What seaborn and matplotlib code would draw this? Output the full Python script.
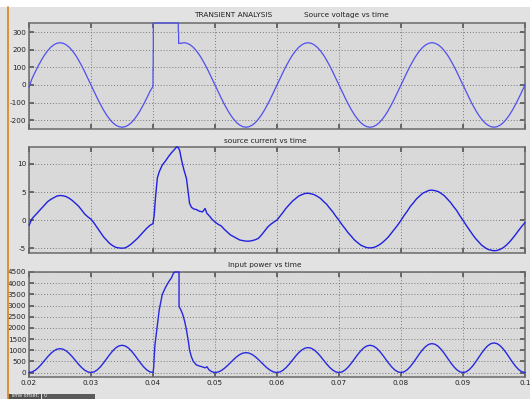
import numpy as np
import pandas as pd
import matplotlib
matplotlib.use('Agg')
import matplotlib.pyplot as plt
import seaborn as sns
from matplotlib.lines import Line2D
from matplotlib.patches import Rectangle

sns.set_theme(style='ticks')
plt.rcParams['font.family'] = ['DejaVu Sans']

# ---- data (time in ms) ----
# source voltage (trace saturates at the top of the scope window, 352)
volt_a = [-12, 37, 74, 109, 141, 170, 194, 214, 228, 237,
          240, 237, 228, 214, 194, 170, 141, 109, 74, 37,
          0, -37, -74, -109, -141, -170, -194, -214, -228, -237,
          -240, -237, -228, -214, -194, -170, -141, -109, -74, -37,
          -8]
volt_tr_ms = [40.0, 40.03, 40.03, 40.05, 40.05, 44.08, 44.08, 44.13, 44.13]
volt_tr = [85, 85, 186, 186, 352, 352, 302, 302, 236]
volt_b = [237,
          240, 237, 228, 214, 194, 170, 141, 109, 74, 37,
          0, -37, -74, -109, -141, -170, -194, -214, -228, -237,
          -240, -237, -228, -214, -194, -170, -141, -109, -74, -37,
          0, 37, 74, 109, 141, 170, 194, 214, 228, 237,
          240, 237, 228, 214, 194, 170, 141, 109, 74, 37,
          0, -37, -74, -109, -141, -170, -194, -214, -228, -237,
          -240, -237, -228, -214, -194, -170, -141, -109, -74, -37,
          0, 37, 74, 109, 141, 170, 194, 214, 228, 237,
          240, 237, 228, 214, 194, 170, 141, 109, 74, 37,
          0, -37, -74, -109, -141, -170, -194, -214, -228, -237,
          -240, -237, -228, -214, -194, -170, -141, -109, -74, -37,
          0]

# source current
curr_a = [-0.9, 0.3, 0.9, 1.5, 2.1, 2.7, 3.3, 3.7, 4.0, 4.3,
          4.4, 4.35, 4.2, 3.9, 3.5, 3.0, 2.5, 1.8, 1.1, 0.6,
          0.2, -0.5, -1.3, -2.1, -2.9, -3.5, -4.1, -4.5, -4.8, -4.9,
          -4.95, -4.9, -4.6, -4.2, -3.7, -3.2, -2.6, -2.0, -1.4, -0.9,
          -0.6]
curr_tr_ms = [40.2, 40.4, 40.7, 41.0, 41.5, 42.0, 42.5, 43.0, 43.5, 43.8, 44.0,
              44.3, 44.6, 45.0, 45.4, 45.9, 46.2, 46.6, 47.0, 47.5, 48.0,
              48.4, 48.7, 49.0, 49.5, 50.0, 50.5, 51.0, 51.5, 52.0, 52.5,
              53.0, 53.5, 54.0, 54.5, 55.0, 55.5, 56.0, 56.5, 57.0, 57.5,
              58.0, 58.5, 59.0, 59.5]
curr_tr = [1.0, 4.0, 7.5, 8.6, 9.8, 10.5, 11.3, 12.0, 12.6, 13.0, 13.0,
           12.4, 10.7, 8.9, 7.4, 3.0, 2.3, 2.0, 1.9, 1.6, 1.5,
           2.1, 1.2, 0.9, 0.2, -0.3, -0.7, -1.0, -1.6, -2.1, -2.6,
           -2.9, -3.2, -3.5, -3.6, -3.7, -3.7, -3.6, -3.45, -3.2, -2.6,
           -1.9, -1.2, -0.7, -0.3]
curr_b = [0.05, 0.75, 1.45, 2.2, 2.8, 3.4, 3.85, 4.3, 4.55, 4.75,
          4.8, 4.7, 4.55, 4.25, 3.9, 3.35, 2.85, 2.15, 1.5, 0.7,
          0.0, -0.8, -1.5, -2.25, -2.85, -3.5, -3.95, -4.4, -4.65, -4.85,
          -4.9, -4.85, -4.65, -4.35, -3.95, -3.45, -2.9, -2.2, -1.5, -0.8,
          0.0, 0.85, 1.6, 2.45, 3.1, 3.8, 4.3, 4.8, 5.05, 5.3,
          5.35, 5.25, 5.1, 4.75, 4.35, 3.75, 3.15, 2.4, 1.7, 0.8,
          0.0, -0.85, -1.65, -2.45, -3.2, -3.8, -4.4, -4.8, -5.15, -5.3,
          -5.4, -5.35, -5.15, -4.85, -4.4, -3.85, -3.2, -2.5, -1.75, -1.05,
          -0.4]

# input power
pow_a = [0, 26, 102, 220, 369, 535, 701, 850, 968, 1044,
         1070, 1044, 968, 850, 701, 535, 369, 220, 102, 26,
         0, 29, 116, 251, 421, 610, 799, 969, 1104, 1191,
         1220, 1191, 1104, 969, 799, 610, 421, 251, 116, 29,
         0]
pow_tr_ms = [40.1, 40.3, 40.6, 41.0, 41.5, 42.0, 42.5, 43.0, 43.3, 43.6,
             44.2, 44.2, 44.5, 44.8, 45.1, 45.4, 45.7, 45.9, 46.2, 46.5,
             47.0, 47.5, 48.0, 48.4, 48.7, 49.0, 49.4, 49.8]
pow_tr = [200, 1200, 1900, 2800, 3500, 3800, 4050, 4250, 4450, 4500,
          4500, 2950, 2800, 2600, 2300, 1900, 1400, 1000, 700, 500,
          340, 290, 250, 210, 260, 130, 50, 10]
pow_b = [0,
         21, 85, 183, 307, 445, 583, 707, 805, 869, 890,
         869, 805, 707, 583, 445, 307, 183, 85, 21, 0,
         27, 106, 230, 385, 558, 731, 886, 1010, 1089, 1116,
         1089, 1010, 886, 731, 558, 385, 230, 106, 27, 0,
         29, 116, 251, 421, 610, 799, 969, 1104, 1191, 1220,
         1191, 1104, 969, 799, 610, 421, 251, 116, 29, 0,
         31, 123, 267, 447, 648, 848, 1028, 1172, 1264, 1295,
         1264, 1172, 1028, 848, 648, 447, 267, 123, 31, 0,
         32, 126, 273, 457, 663, 868, 1052, 1199, 1293, 1325,
         1293, 1199, 1052, 868, 663, 457, 273, 126, 32, 0]

x_ticks = [0.02, 0.03, 0.04, 0.05, 0.06, 0.07, 0.08, 0.09, 0.1]
x_tick_labels = ['0.02', '0.03', '0.04', '0.05', '0.06', '0.07', '0.08', '0.09', '0.1']


def grid_ms(start, stop):
    # scope sample instants, every 0.5 ms
    return list(np.round(np.arange(start, stop + 0.25, 0.5), 2))


def trace(parts):
    ms, vals = [], []
    for m, v in parts:
        ms += list(m)
        vals += list(v)
    return pd.DataFrame({'t': np.array(ms) / 1000.0, 'v': vals})


volt_df = trace([(grid_ms(20, 40), volt_a), (volt_tr_ms, volt_tr), (grid_ms(44.5, 100), volt_b)])
curr_df = trace([(grid_ms(20, 40), curr_a), (curr_tr_ms, curr_tr), (grid_ms(60, 100), curr_b)])
pow_df = trace([(grid_ms(20, 40), pow_a), (pow_tr_ms, pow_tr), (grid_ms(50, 100), pow_b)])

W, H = 530, 399
fig = plt.figure(figsize=(W / 100, H / 100), dpi=100, facecolor='#e2e2e2')

# white strip at the very top, orange window edge at left, status bar at bottom
fig.add_artist(Rectangle((0, 1 - 7 / H), 1, 7 / H, transform=fig.transFigure,
                         facecolor='white', edgecolor='none'))
fig.add_artist(Line2D([7.5 / W, 7.5 / W], [0, 1 - 7 / H], transform=fig.transFigure,
                      color='#e08a2a', lw=1.3))
fig.add_artist(Rectangle((8 / W, 0), 33 / W, 5 / H, transform=fig.transFigure,
                         facecolor='#505050', edgecolor='none'))
fig.add_artist(Rectangle((42 / W, 0), 53 / W, 5 / H, transform=fig.transFigure,
                         facecolor='#5a5a5a', edgecolor='none'))
fig.text(10 / W, 1 / H, 'Time offset:', fontsize=3.5, color='#f0f0f0', va='bottom')
fig.text(44 / W, 1 / H, '0', fontsize=3.5, color='#f0f0f0', va='bottom')

L, R = 29, 525
boxes = [(23, 129), (147, 253), (272, 377)]
axes = []
for top, bot in boxes:
    ax = fig.add_axes([L / W, 1 - bot / H, (R - L) / W, (bot - top) / H])
    axes.append(ax)

panels = [
    (volt_df, '#5050ee', 0.9, (-250, 352), [-200, -100, 0, 100, 200, 300]),
    (curr_df, '#2020e0', 1.0, (-5.8, 13.0), [-5, 0, 5, 10]),
    (pow_df, '#2828e0', 1.0, (-200, 4500),
     [0, 500, 1000, 1500, 2000, 2500, 3000, 3500, 4000, 4500]),
]

for i, (ax, (df, col, lw, ylim, yt)) in enumerate(zip(axes, panels)):
    sns.lineplot(data=df, x='t', y='v', sort=False, estimator=None,
                 color=col, lw=lw, ax=ax, zorder=3, clip_on=False)
    ax.set_facecolor('#d9d9d9')
    ax.set_xlim(0.02, 0.1)
    ax.set_ylim(*ylim)
    ax.set_xticks(x_ticks)
    ax.set_yticks(yt)
    ax.set_yticklabels([str(v) for v in yt])
    if i == 2:
        ax.set_xticklabels(x_tick_labels)
    else:
        ax.set_xticklabels([])
    ax.set_xlabel('')
    ax.set_ylabel('')
    ax.grid(True, linestyle=(0, (1, 2)), color='#7a7a7a', lw=0.7)
    ax.tick_params(direction='in', length=3.5, width=1.2, color='#555555',
                   labelsize=5.2, labelcolor='#222222', pad=2,
                   top=True, right=True)
    for s in ax.spines.values():
        s.set_color('#6a6a6a')
        s.set_linewidth(1.1)

fig.text(194 / W, 1 - 15 / H, 'TRANSIENT ANALYSIS', fontsize=5.3, color='#222222', va='center')
fig.text(304 / W, 1 - 15 / H, 'Source voltage vs time', fontsize=5.3, color='#222222', va='center')
fig.text(265 / W, 1 - 141 / H, 'source current vs time', fontsize=5.3, color='#222222',
         va='center', ha='center')
fig.text(265 / W, 1 - 265 / H, 'Input power vs time', fontsize=5.3, color='#222222',
         va='center', ha='center')

fig.savefig('out.png', dpi=100, facecolor=fig.get_facecolor())
